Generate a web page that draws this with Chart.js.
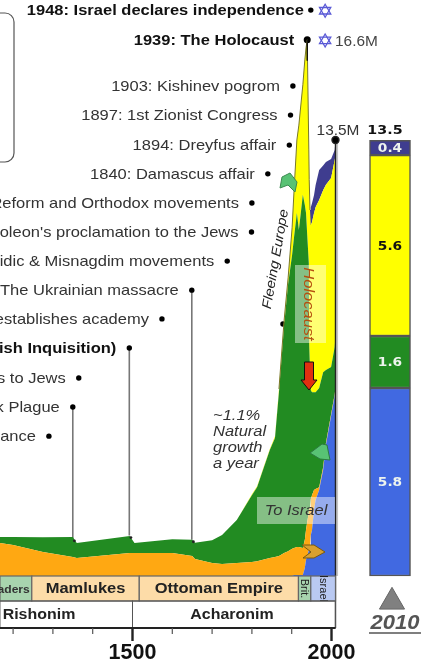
<!DOCTYPE html>
<html>
<head>
<meta charset="utf-8">
<title>Jewish population</title>
<script src="https://cdn.jsdelivr.net/npm/chart.js@4"></script>
<style>
    html, body { margin: 0; padding: 0; background: #fff; overflow: hidden; }
    canvas { display: block; filter: blur(0.45px); }
</style>
</head>
<body>
<canvas id="popChart" width="424" height="659"></canvas>
<script>
// Population by region, millions, one value per year in "years"
var years = [1167, 1200, 1275, 1350, 1360, 1493, 1505, 1600, 1650, 1657, 1700, 1725, 1762, 1800, 1813, 1845, 1858, 1868, 1881, 1891, 1901, 1906, 1913, 1918, 1928, 1933, 1936, 1939, 1943, 1944, 1946, 1948, 1951, 1956, 1960, 1969, 1979, 1986, 1999, 2008, 2010];
var israel = [0, 0, 0, 0, 0, 0, 0, 0, 0, 0, 0, 0, 0, 0, 0, 0, 0, 0, 0, 0, 0, 0.03, 0.03, 0.03, 0.03, 0.25, 0.5, 0.62, 0.8, 0.84, 0.96, 1.27, 1.42, 2.04, 2.35, 2.66, 3.28, 4.06, 4.95, 5.57, 5.82];
var middleEast = [1.02, 0.96, 0.74, 0.59, 0.56, 0.71, 0.71, 0.71, 0.62, 0.53, 0.4, 0.37, 0.4, 0.43, 0.46, 0.56, 0.59, 0.62, 0.71, 0.77, 0.84, 0.84, 0.87, 0.87, 0.84, 0.87, 0.93, 1.05, 1.18, 1.21, 1.18, 1.11, 1.08, 0.62, 0.34, 0.09, 0.09, 0.06, 0.06, 0.06, 0];
var europe = [0.19, 0.25, 0.46, 0.62, 0.46, 0.53, 0.31, 0.43, 0.5, 0.5, 0.71, 0.9, 1.33, 2.07, 2.29, 3.34, 3.68, 5.08, 7.06, 8.27, 9.1, 9.63, 10.34, 9.81, 10.93, 10.37, 9.81, 8.89, 7.71, 5.11, 4.24, 3.37, 3.19, 3.03, 3, 3.07, 2.94, 2.26, 1.46, 1.46, 1.61];
var americas = [0, 0, 0, 0, 0, 0, 0, 0, 0, 0, 0, 0, 0, 0.03, 0.03, 0.03, 0.06, 0.09, 0.15, 0.19, 0.84, 1.46, 2.26, 3.25, 3.41, 4.49, 5.11, 6.04, 3.5, 5.11, 4.95, 5.11, 5.26, 5.54, 5.73, 5.82, 5.63, 5.73, 5.85, 5.79, 5.6];
var other = [0, 0, 0, 0, 0, 0, 0, 0, 0, 0, 0, 0, 0, 0, 0, 0, 0, 0, 0, 0, 0, 0, 0, 0, 0, 0, 0, 0, 0, 0, 0, 0.56, 0.59, 0.56, 0.68, 0.93, 0.77, 0.71, 0.59, 0.31, 0.46];

// 2010 stacked bar
var barYear = 2147;
var barValues = [5.82, 1.61, 5.6, 0.46];
var barLabels = ['5.8', '1.6', '5.6', '0.4'];
var barTotal = '13.5';

// Timeline events
var eventYears = [1948, 1939, 1903, 1897, 1894, 1840, 1800, 1799, 1738, 1649, 1574, 1492, 1365, 1350, 1290, 1878];
var eventHeights = [17.52, 16.6, 15.17, 14.27, 13.34, 12.45, 11.55, 10.65, 9.75, 8.85, 7.96, 7.06, 6.13, 5.23, 4.33, 7.8];
var eventLabels = [
    '1948: Israel declares independence',
    '1939: The Holocaust',
    '1903: Kishinev pogrom',
    '1897: 1st Zionist Congress',
    '1894: Dreyfus affair',
    '1840: Damascus affair',
    '1800: Reform and Orthodox movements',
    '1799: Napoleon\'s proclamation to the Jews',
    '1740: Hasidic & Misnagdim movements',
    '1648: The Ukrainian massacre',
    '1574: Luria establishes academy',
    '1492: Expulsion from Spain (Spanish Inquisition)',
    '1364: Poland grants rights to Jews',
    '1348: Black Plague',
    '1290: Expulsion from England and France',
    ''
];
var boldEvents = [0, 1, 11];

// Eras under the chart
var eraNames = ['Crusaders', 'Mamlukes', 'Ottoman Empire', 'Brit.', 'Israel'];
var eraStart = [1167, 1247, 1517, 1917, 1948];
var eraEnd = [1247, 1517, 1917, 1948, 2010];
var ageNames = ['Rishonim', 'Acharonim'];
var ageStart = [1167, 1500];
var ageEnd = [1500, 2010];

var tickYears = [1200, 1300, 1400, 1500, 1600, 1700, 1800, 1900, 2000];
var labelledTicks = [1500, 2000];

// Stems from an event dot down to the area
var stemYears = [1350, 1492, 1649];
var stemHeights = [5.23, 7.06, 8.85];
var stemEnds = [1.15, 1.25, 1.12];

function toPoints(values) {
    return values.map(function(v, i) {
        return { x: years[i], y: v };
    });
}

// Add each series on top of the previous one
function stackSeries(list) {
    var running = years.map(function() { return 0; });
    return list.map(function(values) {
        running = running.map(function(r, i) { return r + values[i]; });
        return toPoints(running);
    });
}

var stacks = stackSeries([israel, middleEast, europe, americas, other]);
var colors = ['#4169E1', '#FFA812', '#228B22', '#FFFF00', '#3F3D8F'];

function areaDataset(i) {
    return {
        type: 'line',
        data: stacks[i],
        fill: i === 0 ? 'origin' : '-1',
        backgroundColor: colors[i],
        borderWidth: 0,
        pointRadius: 0,
        tension: 0,
        order: 2
    };
}

var datasets = [0, 1, 2, 3, 4].map(areaDataset);

// Olive edge along the peak
datasets.push({
    type: 'line',
    data: stacks[4].filter(function(p) { return p.x >= 1868 && p.x <= 1946; }),
    borderColor: '#77772a',
    borderWidth: 1,
    pointRadius: 0,
    fill: false,
    tension: 0,
    order: 1
});

// Event dots
datasets.push({
    type: 'scatter',
    data: eventYears.map(function(y, i) { return { x: y, y: eventHeights[i] }; }),
    backgroundColor: '#000',
    borderWidth: 0,
    pointRadius: eventYears.map(function(y) { return y === 1939 ? 3.5 : 2.7; }),
    order: 3
});

// Event stems, a gap between each
var stemPoints = [];
stemYears.forEach(function(y, i) {
    stemPoints.push({ x: y, y: stemHeights[i] });
    stemPoints.push({ x: y, y: stemEnds[i] });
    stemPoints.push({ x: y, y: NaN });
});
datasets.push({
    type: 'line',
    data: stemPoints,
    borderColor: '#777',
    borderWidth: 1.6,
    pointRadius: 0,
    spanGaps: false,
    order: 4
});

// Small marks at the foot of each stem
datasets.push({
    type: 'scatter',
    data: stemYears.map(function(y, i) { return { x: y + 4, y: stemEnds[i] - 0.06 }; }),
    backgroundColor: '#222',
    borderWidth: 0,
    pointRadius: 1.4,
    order: 1
});

// Peak line and 2010 line
datasets.push({
    type: 'line',
    data: [{ x: 1939, y: 16.6 }, { x: 1939, y: 15.95 }],
    borderColor: '#111',
    borderWidth: 1.5,
    pointRadius: 0,
    order: 0
});
datasets.push({
    type: 'line',
    data: [{ x: 2010, y: 13.5 }, { x: 2010, y: -1.61 }],
    borderColor: '#222',
    borderWidth: 1.4,
    pointRadius: [3.5, 0],
    pointBackgroundColor: '#000',
    order: 0
});
datasets.push({
    type: 'line',
    data: [{ x: 2014, y: 13.4 }, { x: 2014, y: 0 }],
    borderColor: '#c4c4c4',
    borderWidth: 2,
    pointRadius: 0,
    order: 5
});

// Stars of David, two triangles each
datasets.push({
    type: 'scatter',
    data: [{ x: 1984, y: 17.5 }, { x: 1984, y: 17.5 }, { x: 1984, y: 16.58 }, { x: 1984, y: 16.58 }],
    pointStyle: 'triangle',
    pointRotation: [0, 180, 0, 180],
    pointRadius: 6.5,
    borderColor: '#5a5ad6',
    borderWidth: 1.3,
    backgroundColor: 'rgba(0,0,0,0)',
    order: 0
});

// Grey marker under the bar
datasets.push({
    type: 'scatter',
    data: [{ x: barYear + 5, y: -0.8 }],
    pointStyle: 'triangle',
    pointRadius: 14.5,
    borderColor: '#666',
    borderWidth: 1,
    backgroundColor: '#808080',
    order: -2
});

// 2010 bar segments
var barBase = 0;
barValues.forEach(function(v, i) {
    var seg = [barBase, barBase + v];
    barBase += v;
    datasets.push({
        type: 'bar',
        data: [{ x: barYear, y: seg }],
        backgroundColor: [colors[0], colors[2], colors[3], colors[4]][i],
        borderColor: '#555',
        borderWidth: 1.5,
        borderSkipped: false,
        barThickness: 41,
        grouped: false,
        order: 2
    });
});

function polygon(ctx, pts, fill, stroke) {
    ctx.beginPath();
    pts.forEach(function(p, i) {
        if (i === 0) { ctx.moveTo(p[0], p[1]); } else { ctx.lineTo(p[0], p[1]); }
    });
    ctx.closePath();
    ctx.fillStyle = fill;
    ctx.fill();
    ctx.strokeStyle = stroke;
    ctx.lineWidth = 1;
    ctx.stroke();
}

// The source text is a little wider than the font, so stretch it
var STRETCH = 1.1;

function label(ctx, text, x, y, font, color, align) {
    ctx.save();
    ctx.translate(x, y + 0.8);
    ctx.scale(STRETCH, 1);
    ctx.font = font;
    ctx.fillStyle = color;
    ctx.textAlign = align || 'center';
    ctx.textBaseline = 'middle';
    ctx.fillText(text, 0, 0);
    ctx.restore();
}

var BODY = '"Liberation Sans", Arial, sans-serif';
var DEJAVU = '"DejaVu Sans", Verdana, sans-serif';

var decorations = {
    id: 'decorations',
    afterDatasetsDraw: function(chart) {
        var ctx = chart.ctx;
        var xs = chart.scales.x;
        var ys = chart.scales.y;
        ctx.save();

        // Legend box, mostly off the left edge
        ctx.beginPath();
        ctx.roundRect(-30, 13, 44, 149, 9);
        ctx.strokeStyle = '#555';
        ctx.lineWidth = 1.2;
        ctx.stroke();

        // Event text
        eventLabels.forEach(function(text, i) {
            if (!text) { return; }
            var bold = boldEvents.indexOf(i) >= 0;
            var gap = i === 0 ? 7 : 13;
            label(ctx, text, xs.getPixelForValue(eventYears[i]) - gap, ys.getPixelForValue(eventHeights[i]),
                (bold ? 'bold ' : '') + '15px ' + BODY, bold ? '#111' : '#333', 'right');
        });

        // Era bands
        var y0 = ys.getPixelForValue(0);
        var y1 = y0 + 25;
        var y2 = y1 + 27;
        var eraFill = ['#A8D4AE', '#FDDCA8', '#FDDCA8', '#A8D4AE', '#B9C9F2'];
        eraNames.forEach(function(name, i) {
            var a = xs.getPixelForValue(eraStart[i]);
            var b = xs.getPixelForValue(eraEnd[i]);
            ctx.fillStyle = eraFill[i];
            ctx.fillRect(a, y0, b - a, y1 - y0);
            ctx.strokeStyle = '#666';
            ctx.lineWidth = 1.2;
            ctx.strokeRect(a, y0, b - a, y1 - y0);
            ctx.save();
            ctx.beginPath();
            ctx.rect(a, y0, b - a, y1 - y0);
            ctx.clip();
            if (i >= 3) {
                ctx.translate((a + b) / 2, (y0 + y1) / 2);
                ctx.rotate(Math.PI / 2);
                label(ctx, name, 0, 0, '10px ' + BODY, '#222');
            } else if (i === 0) {
                label(ctx, name, b - 2, (y0 + y1) / 2 + 0.5, 'bold 11px ' + BODY, '#333', 'right');
            } else {
                label(ctx, name, (a + b) / 2, (y0 + y1) / 2, 'bold 15px ' + BODY, '#222');
            }
            ctx.restore();
        });
        ageNames.forEach(function(name, i) {
            var a = xs.getPixelForValue(ageStart[i]);
            var b = xs.getPixelForValue(ageEnd[i]);
            ctx.strokeStyle = '#555';
            ctx.lineWidth = 1;
            ctx.strokeRect(a, y1, b - a, y2 - y1);
        });
        label(ctx, ageNames[0], 39, (y1 + y2) / 2, 'bold 14.5px ' + BODY, '#222');
        label(ctx, ageNames[1], 232, (y1 + y2) / 2, 'bold 14.5px ' + BODY, '#222');

        // Axis line and tick marks
        var axisEnd = xs.getPixelForValue(2010);
        ctx.strokeStyle = '#222';
        ctx.lineWidth = 2;
        ctx.beginPath();
        ctx.moveTo(0, y2);
        ctx.lineTo(axisEnd, y2);
        ctx.stroke();
        tickYears.forEach(function(t) {
            var big = labelledTicks.indexOf(t) >= 0;
            var px = xs.getPixelForValue(t);
            ctx.lineWidth = big ? 2.4 : 1.2;
            ctx.strokeStyle = big ? '#222' : '#555';
            ctx.beginPath();
            ctx.moveTo(px, y2);
            ctx.lineTo(px, y2 + (big ? 13 : 6));
            ctx.stroke();
        });

        // Translucent boxes
        ctx.fillStyle = 'rgba(255,255,255,0.45)';
        ctx.fillRect(295, 265, 31, 78);
        ctx.fillRect(257, 497, 78, 27);

        // Chevrons and Holocaust arrow
        polygon(ctx, [[280, 188], [282, 177], [290, 173], [297, 182], [295, 192], [288, 185]], '#58C274', '#3c8a50');
        polygon(ctx, [[310, 453], [322, 444], [327, 445], [330, 460], [320, 459]], '#58C274', '#2c7a40');
        polygon(ctx, [[302, 545], [314, 545], [325, 552], [314, 558], [303, 558], [311, 552]], '#D9A030', '#7a5a10');
        polygon(ctx, [[304.5, 362], [313.5, 362], [313.5, 380], [317, 380], [309, 390], [301, 380], [304.5, 380]], '#E03010', '#111');

        // Rotated and free text
        ctx.save();
        ctx.translate(309, 304);
        ctx.rotate(Math.PI / 2);
        label(ctx, 'Holocaust', 0, 0, 'italic 15px ' + BODY, '#B5500F');
        ctx.restore();
        ctx.save();
        ctx.translate(275, 259);
        ctx.rotate(-80 * Math.PI / 180);
        label(ctx, 'Fleeing Europe', 0, 0, 'italic 13.5px ' + BODY, '#222');
        ctx.restore();
        label(ctx, 'To Israel', 296, 510, 'italic 15px ' + BODY, '#333');
        ['~1.1%', 'Natural', 'growth', 'a year'].forEach(function(t, i) {
            label(ctx, t, 213, 415 + i * 16, 'italic 15px ' + BODY, '#333', 'left');
        });

        // Value labels
        label(ctx, '16.6M', 335, 41, '14px ' + BODY, '#444', 'left');
        label(ctx, '13.5M', 338, 130, '14px ' + BODY, '#333');

        // Bar labels
        var barX = xs.getPixelForValue(barYear);
        var base = 0;
        barValues.forEach(function(v, i) {
            var mid = ys.getPixelForValue(base + v / 2);
            base += v;
            label(ctx, barLabels[i], barX, mid, 'bold 12.5px ' + DEJAVU, i === 2 ? '#111' : '#EEF4EE');
        });
        label(ctx, barTotal, barX - 5, 130, 'bold 13px ' + DEJAVU, '#111');

        // 2010 under the bar
        label(ctx, '2010', barX + 5, 623, 'italic bold 20px ' + BODY, '#555');
        ctx.strokeStyle = '#555';
        ctx.lineWidth = 1.3;
        ctx.beginPath();
        ctx.moveTo(369, 633);
        ctx.lineTo(421, 633);
        ctx.stroke();

        ctx.restore();
    }
};

new Chart(document.getElementById('popChart'), {
    type: 'line',
    data: { datasets: datasets },
    options: {
        responsive: false,
        animation: false,
        layout: { padding: 0, autoPadding: false },
        plugins: {
            legend: { display: false },
            tooltip: { enabled: false }
        },
        scales: {
            x: {
                type: 'linear',
                min: 1167.1,
                max: 2232.4,
                offset: false,
                grid: { display: false, drawTicks: false },
                border: { display: false },
                afterBuildTicks: function(scale) {
                    scale.ticks = tickYears.map(function(t) { return { value: t }; });
                },
                afterFit: function(scale) {
                    scale.height = 31;
                },
                ticks: {
                    autoSkip: false,
                    maxRotation: 0,
                    padding: 12,
                    color: '#111',
                    font: { family: BODY, size: 21.5, weight: 'bold' },
                    callback: function(value) {
                        return labelledTicks.indexOf(value) >= 0 ? String(value) : '';
                    }
                }
            },
            y: {
                display: false,
                min: -1.61,
                max: 17.833
            }
        }
    },
    plugins: [decorations]
});
</script>
</body>
</html>
